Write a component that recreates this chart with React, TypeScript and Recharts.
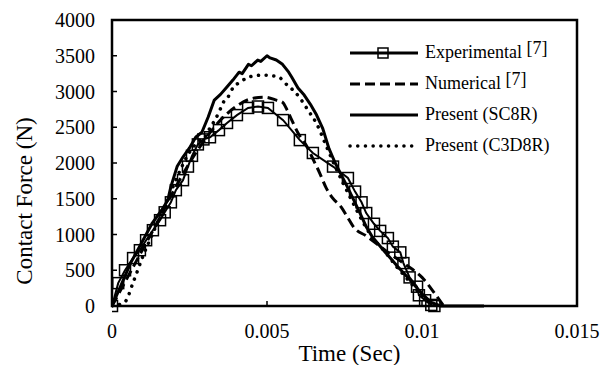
import React from 'react';
import { LineChart, Line, XAxis, YAxis, ReferenceArea } from 'recharts';

// Contact force history.
// time in seconds, force in N

const experimentalTime = [
  0, 0.0002, 0.00042, 0.00068, 0.0009, 0.0011, 0.00132, 0.00155, 0.0017, 0.0019,
  0.00206, 0.00229, 0.00245, 0.00258, 0.00277, 0.00295, 0.00316, 0.00345, 0.00371,
  0.00403, 0.00439, 0.00471, 0.00503, 0.00552, 0.00606, 0.00648, 0.00713, 0.00761,
  0.00784, 0.00805, 0.0082, 0.00845, 0.00865, 0.0089, 0.00906, 0.0093, 0.0094,
  0.0096, 0.00984, 0.0099, 0.0101, 0.0103, 0.0104,
];
const experimentalForce = [
  0, 320, 500, 670, 780, 920, 1060, 1200, 1310, 1450, 1620, 1760, 1950, 2100, 2260,
  2330, 2360, 2460, 2560, 2670, 2770, 2790, 2770, 2600, 2320, 2140, 1950, 1790, 1600,
  1450, 1300, 1150, 1050, 950, 830, 750, 600, 400, 270, 150, 80, 15, 0,
];

const numericalTime = [
  0, 0.0005, 0.001, 0.0015, 0.002, 0.0025, 0.003, 0.0035, 0.004, 0.0045, 0.0049,
  0.0053, 0.0055, 0.00565, 0.0058, 0.006, 0.0063, 0.0065, 0.0067, 0.0069, 0.0071,
  0.0074, 0.0076, 0.0078, 0.0082, 0.0086, 0.009, 0.0094, 0.0097, 0.01, 0.0103, 0.0107,
];
const numericalForce = [
  0, 400, 800, 1200, 1620, 2000, 2330, 2600, 2790, 2900, 2920, 2880, 2850, 2740, 2600,
  2420, 2220, 2040, 1860, 1660, 1520, 1380, 1240, 1100, 980, 850, 720, 600, 510, 400,
  240, 0,
];

const sc8rTime = [
  0, 0.0003, 0.0006, 0.001, 0.0013, 0.0016, 0.0018, 0.0019, 0.0021, 0.0023, 0.0025,
  0.0027, 0.0029, 0.0031, 0.0033, 0.0035, 0.0037, 0.0039, 0.0041, 0.0042, 0.0044,
  0.0045, 0.0047, 0.0048, 0.005, 0.0051, 0.0053, 0.0055, 0.0057, 0.0058, 0.006,
  0.0062, 0.0064, 0.0066, 0.0068, 0.007, 0.0072, 0.0074, 0.0076, 0.0078, 0.008,
  0.0082, 0.0084, 0.0088, 0.0092, 0.0096, 0.01, 0.0103, 0.0106, 0.012,
];
const sc8rForce = [
  0, 300, 600, 920, 1160, 1340, 1480, 1670, 1950, 2090, 2210, 2360, 2430, 2640, 2880,
  2960, 3060, 3160, 3270, 3250, 3380, 3360, 3440, 3420, 3500, 3470, 3440, 3380, 3270,
  3200, 3050, 2950, 2820, 2670, 2480, 2200, 2000, 1830, 1660, 1480, 1300, 1110, 965,
  760, 560, 370, 170, 50, 0, 0,
];

const c3d8rTime = [
  0, 0.0004, 0.0007, 0.001, 0.0013, 0.0016, 0.0019, 0.0022, 0.0025, 0.00284, 0.003,
  0.00316, 0.00332, 0.00348, 0.00358, 0.00374, 0.0039, 0.00413, 0.00435, 0.00461,
  0.00487, 0.00516, 0.00542, 0.00565, 0.00584, 0.00606, 0.00632, 0.0066, 0.0069,
  0.0072, 0.0075, 0.0078, 0.0081, 0.0084, 0.0088, 0.0092, 0.0096, 0.01, 0.0103, 0.0105,
];
const c3d8rForce = [
  0, 50, 350, 700, 1000, 1300, 1600, 1900, 2150, 2320, 2360, 2490, 2600, 2740, 2840,
  2920, 3050, 3130, 3190, 3220, 3230, 3220, 3190, 3090, 3020, 2910, 2740, 2550, 2250,
  1950, 1680, 1420, 1170, 960, 760, 540, 340, 140, 30, 0,
];

const xTicks = [0, 0.005, 0.01, 0.015];
const yTicks = [0, 500, 1000, 1500, 2000, 2500, 3000, 3500, 4000];

const zip = (t: number[], f: number[]) => t.map((v, i) => ({ t: v, f: f[i] }));

const experimental = zip(experimentalTime, experimentalForce);
const numerical = zip(numericalTime, numericalForce);
const sc8r = zip(sc8rTime, sc8rForce);
const c3d8r = zip(c3d8rTime, c3d8rForce);

const FONT = '"Liberation Serif", "Times New Roman", Times, serif';
const X_TICK_MARGIN = 18;
const Y_TICK_MARGIN = 17;

const XTick = (props: any) => {
  const { x, y, payload } = props;
  const axisY = y - X_TICK_MARGIN;
  const v = payload.value;
  const inner = v > 0 && v < 0.015;
  return (
    <g>
      {inner && <line x1={x} x2={x} y1={axisY} y2={axisY - 5} stroke="#000" strokeWidth={1.5} />}
      <text x={x} y={y} dy="0.71em" textAnchor="middle" fontFamily={FONT} fontSize={20} fill="#000">
        {String(v)}
      </text>
    </g>
  );
};

const YTick = (props: any) => {
  const { x, y, payload } = props;
  const axisX = x + Y_TICK_MARGIN;
  const v = payload.value;
  const inner = v > 0 && v < 4000;
  return (
    <g>
      {inner && <line x1={axisX} x2={axisX + 5} y1={y} y2={y} stroke="#000" strokeWidth={1.5} />}
      <text x={x} y={y} dy="0.35em" textAnchor="end" fontFamily={FONT} fontSize={20} fill="#000">
        {v}
      </text>
    </g>
  );
};

const YTitle = (props: any) => {
  const { viewBox } = props;
  const cx = viewBox.x + 24;
  const cy = viewBox.y + viewBox.height / 2 + 38;
  return (
    <text
      x={cx}
      y={cy}
      transform={`rotate(-90 ${cx} ${cy})`}
      textAnchor="middle"
      dominantBaseline="central"
      fontFamily={FONT}
      fontSize={23}
      fill="#000"
    >
      Contact Force (N)
    </text>
  );
};

const XTitle = (props: any) => {
  const { viewBox } = props;
  const cx = viewBox.x + viewBox.width / 2 + 5;
  const cy = viewBox.y + 47;
  return (
    <text x={cx} y={cy} textAnchor="middle" dominantBaseline="central" fontFamily={FONT} fontSize={23} fill="#000">
      Time (Sec)
    </text>
  );
};

const SquareDot = (p: any) => (
  <rect
    key={`sq-${p.index}`}
    x={p.cx - 5.5}
    y={p.cy - 5.5}
    width={11}
    height={11}
    fill="none"
    stroke="#000"
    strokeWidth={1.5}
  />
);

const legendItems = [
  { name: 'Experimental', ref: true, dash: undefined, square: true, width: 3 },
  { name: 'Numerical', ref: true, dash: '10 5', square: false, width: 3 },
  { name: 'Present (SC8R)', ref: false, dash: undefined, square: false, width: 3 },
  { name: 'Present (C3D8R)', ref: false, dash: '0.1 7.6', square: false, width: 3.5 },
];

const ChartLegend = () => (
  <div style={{ position: 'absolute', left: 348, top: 37, fontFamily: FONT, fontSize: 18, color: '#000' }}>
    {legendItems.map((it) => (
      <div key={it.name} style={{ display: 'flex', alignItems: 'center', height: 31 }}>
        <svg width={70} height={14} style={{ overflow: 'visible' }}>
          <line
            x1={2}
            x2={70}
            y1={7}
            y2={7}
            stroke="#000"
            strokeWidth={it.width}
            strokeDasharray={it.dash}
            strokeLinecap={it.dash && it.dash.startsWith('0.1') ? 'round' : 'butt'}
          />
          {it.square && <rect x={30} y={2} width={10} height={10} fill="none" stroke="#000" strokeWidth={1.5} />}
        </svg>
        <span style={{ marginLeft: 7, whiteSpace: 'nowrap' }}>
          {it.name}
          {it.ref && <span style={{ position: 'relative', top: -4 }}> [7]</span>}
        </span>
      </div>
    ))}
  </div>
);

export default function App() {
  return (
    <div style={{ position: 'relative', width: 609, height: 365, background: '#fff' }}>
      <style>{'body{margin:0}'}</style>
      <LineChart width={609} height={365} margin={{ top: 20, right: 32, bottom: 3, left: 0 }}>
        <XAxis
          type="number"
          dataKey="t"
          domain={[0, 0.015]}
          ticks={xTicks}
          allowDataOverflow
          axisLine={false}
          tickLine={false}
          tickSize={0}
          tickMargin={X_TICK_MARGIN}
          height={56}
          tick={<XTick />}
          label={{ content: XTitle }}
        />
        <YAxis
          type="number"
          dataKey="f"
          domain={[0, 4000]}
          ticks={yTicks}
          axisLine={false}
          tickLine={false}
          tickSize={0}
          tickMargin={Y_TICK_MARGIN}
          width={112}
          tick={<YTick />}
          label={{ content: YTitle }}
        />
        <Line
          data={experimental}
          dataKey="f"
          type="linear"
          stroke="#000"
          strokeWidth={2}
          dot={SquareDot}
          activeDot={false}
          isAnimationActive={false}
        />
        <Line
          data={numerical}
          dataKey="f"
          type="monotone"
          stroke="#000"
          strokeWidth={3}
          strokeDasharray="10 5"
          dot={false}
          activeDot={false}
          isAnimationActive={false}
        />
        <Line
          data={c3d8r}
          dataKey="f"
          type="monotone"
          stroke="#000"
          strokeWidth={3.5}
          strokeDasharray="0.1 7.6"
          strokeLinecap="round"
          dot={false}
          activeDot={false}
          isAnimationActive={false}
        />
        <Line
          data={sc8r}
          dataKey="f"
          type="linear"
          stroke="#000"
          strokeWidth={3}
          strokeLinejoin="round"
          dot={false}
          activeDot={false}
          isAnimationActive={false}
        />
        <ReferenceArea x1={0} x2={0.015} y1={0} y2={4000} fill="none" stroke="#000" strokeWidth={2.5} />
      </LineChart>
      <ChartLegend />
    </div>
  );
}
